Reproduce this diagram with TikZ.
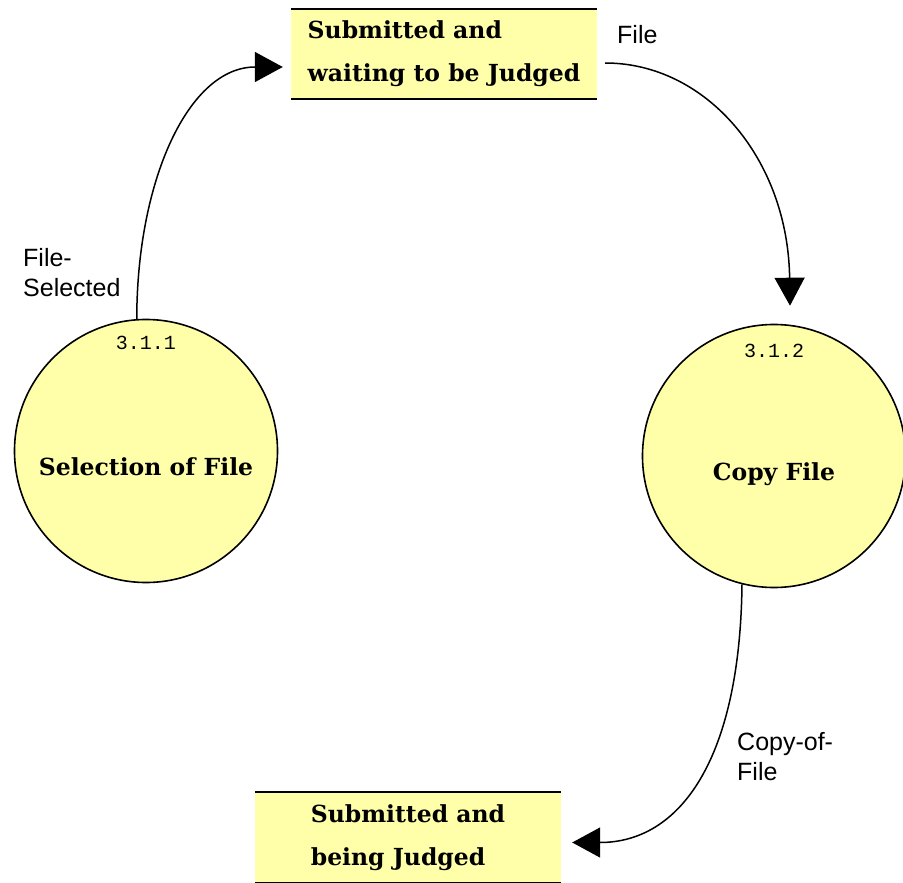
\documentclass[tikz,border=0pt]{standalone}
\usepackage{fontspec}
\setmainfont{DejaVu Serif}
\newfontfamily\lblfont{Liberation Sans}
\newfontfamily\idfont{Liberation Mono}
\usetikzlibrary{positioning,arrows.meta}
\definecolor{dfdyellow}{RGB}{255,255,170}

\begin{document}
\begin{tikzpicture}[
  x=1pt, y=-1pt,
  process/.style={circle, draw, line width=1.6pt, fill=dfdyellow, minimum size=263pt, inner sep=0pt},
  store/.style={rectangle, fill=dfdyellow, minimum width=306pt, minimum height=90pt, align=left, font=\bfseries\fontsize{23.5}{43}\selectfont},
  storeline/.style={line width=2pt},
  proctext/.style={anchor=base, font=\bfseries\fontsize{23.5}{27}\selectfont},
  ident/.style={inner sep=0pt, font=\idfont\fontsize{20}{22}\selectfont},
  flowlbl/.style={align=left, inner sep=0pt, anchor=north west, font=\lblfont\fontsize{25}{30}\selectfont},
  flow/.style={->, line width=1.5pt},
  >={Triangle[length=28pt,width=30pt]}
]
\useasboundingbox (0,0) rectangle (903,883);

% data stores
\node[store] (wait) at (444,54) {Submitted and\\waiting to be Judged};
\node[store] (judged) at (408,837.5) {Submitted and\\being Judged};
\draw[storeline] (wait.north west) -- (wait.north east);
\draw[storeline] (wait.south west) -- (wait.south east);
\draw[storeline] (judged.north west) -- (judged.north east);
\draw[storeline] (judged.south west) -- (judged.south east);

% processes
\node[process] (sel) at (146,451) {};
\node[process] (copy) at (774,456) {};
\node[proctext] (seltxt) at ([yshift=-24pt]sel.center) {Selection of File};
\node[proctext] (copytxt) at ([yshift=-24pt]copy.center) {Copy File};
\node[ident, below=17pt of sel.north] (selid) {3.1.1};
\node[ident, below=20pt of copy.north] (copyid) {3.1.2};

% flows
\node[flowlbl] (sellbl) at (23,248) {File-\\Selected};
\node[flowlbl] (filelbl) at (617,25) {File};
\node[flowlbl] (copylbl) at (737,732) {Copy-of-\\File};

\draw[flow] (sel.94) .. controls +(0,-139) and +(-94,0) .. ([xshift=-8pt,yshift=-13pt]wait.west);
\draw[flow] ([xshift=8pt,yshift=-9pt]wait.east) .. controls +(101,0) and +(-2,-147) .. ([xshift=16pt,yshift=18pt]copy.north);
\draw[flow] (copy.256) .. controls +(-2,175) and +(108,0) .. ([xshift=11pt,yshift=-5pt]judged.east);
\end{tikzpicture}
\end{document}
